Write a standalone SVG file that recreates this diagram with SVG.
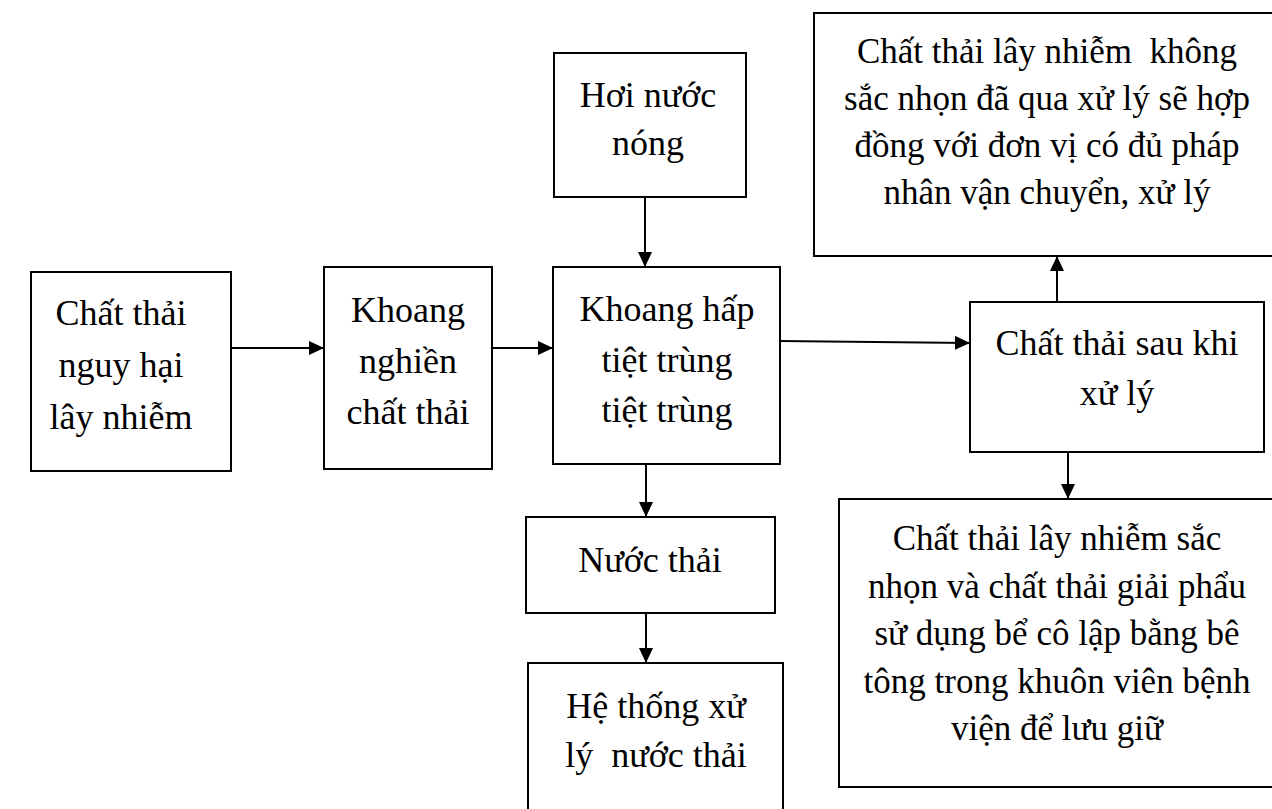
<svg xmlns="http://www.w3.org/2000/svg" width="1272" height="809" viewBox="0 0 1272 809">
  <style>
    .box { fill: #ffffff; stroke: #000000; stroke-width: 2; }
    .lbl { font-family: "Liberation Serif", "Times New Roman", serif; font-size: 36px; fill: #000000; text-anchor: middle; }
    .lbl-s { font-size: 35px; }
    .edge { fill: none; stroke: #000000; stroke-width: 2; }
  </style>
  <defs>
    <marker id="arrow" markerUnits="userSpaceOnUse" markerWidth="16" markerHeight="14" refX="15" refY="7" orient="auto">
      <path d="M0,0 L15,7 L0,14 z" fill="#000000"/>
    </marker>
  </defs>
  <rect width="1272" height="809" fill="#ffffff"/>

  <!-- connectors -->
  <g id="connectors">
    <line class="edge" x1="231" y1="348" x2="324" y2="348" marker-end="url(#arrow)"/>
    <line class="edge" x1="492" y1="348" x2="553" y2="348" marker-end="url(#arrow)"/>
    <line class="edge" x1="645" y1="197" x2="645" y2="267" marker-end="url(#arrow)"/>
    <line class="edge" x1="779" y1="341" x2="970" y2="343" marker-end="url(#arrow)"/>
    <line class="edge" x1="1057" y1="302" x2="1057" y2="256" marker-end="url(#arrow)"/>
    <line class="edge" x1="1068" y1="452" x2="1068" y2="499" marker-end="url(#arrow)"/>
    <line class="edge" x1="646" y1="464" x2="646" y2="517" marker-end="url(#arrow)"/>
    <line class="edge" x1="646" y1="613" x2="646" y2="663" marker-end="url(#arrow)"/>
  </g>

  <!-- hazardous infectious waste -->
  <g id="n-input">
    <rect class="box" x="31" y="272" width="200" height="199"/>
    <text class="lbl" x="121" y="325">Chất thải</text>
    <text class="lbl" x="121" y="377">nguy hại</text>
    <text class="lbl" x="121" y="429">lây nhiễm</text>
  </g>

  <!-- shredding chamber -->
  <g id="n-shredder">
    <rect class="box" x="324" y="267" width="168" height="202"/>
    <text class="lbl" x="408" y="322">Khoang</text>
    <text class="lbl" x="408" y="373">nghiền</text>
    <text class="lbl" x="408" y="424">chất thải</text>
  </g>

  <!-- hot steam -->
  <g id="n-steam">
    <rect class="box" x="554" y="53" width="192" height="144"/>
    <text class="lbl" x="648" y="107">Hơi nước</text>
    <text class="lbl" x="648" y="155">nóng</text>
  </g>

  <!-- steam sterilisation chamber -->
  <g id="n-autoclave">
    <rect class="box" x="553" y="267" width="227" height="197"/>
    <text class="lbl" x="667" y="321">Khoang hấp</text>
    <text class="lbl" x="667" y="372">tiệt trùng</text>
    <text class="lbl" x="667" y="422">tiệt trùng</text>
  </g>

  <!-- waste water -->
  <g id="n-wastewater">
    <rect class="box" x="526" y="517" width="249" height="96"/>
    <text class="lbl" x="650" y="572">Nước thải</text>
  </g>

  <!-- waste water treatment system -->
  <g id="n-wwtp">
    <rect class="box" x="528" y="663" width="255" height="170"/>
    <text class="lbl" x="656" y="718">Hệ thống xử</text>
    <text class="lbl" x="656" y="767" xml:space="preserve">lý  nước thải</text>
  </g>

  <!-- treated waste -->
  <g id="n-treated">
    <rect class="box" x="970" y="302" width="294" height="150"/>
    <text class="lbl" x="1117" y="355">Chất thải sau khi</text>
    <text class="lbl" x="1117" y="405">xử lý</text>
  </g>

  <!-- non-sharp infectious waste, contracted out -->
  <g id="n-contract">
    <rect class="box" x="814" y="13" width="480" height="243"/>
    <text class="lbl lbl-s" x="1047" y="63" xml:space="preserve">Chất thải lây nhiễm  không</text>
    <text class="lbl lbl-s" x="1047" y="110">sắc nhọn đã qua xử lý sẽ hợp</text>
    <text class="lbl lbl-s" x="1047" y="157">đồng với đơn vị có đủ pháp</text>
    <text class="lbl lbl-s" x="1047" y="204">nhân vận chuyển, xử lý</text>
  </g>

  <!-- sharps and anatomical waste, concrete pit -->
  <g id="n-pit">
    <rect class="box" x="839" y="499" width="460" height="288"/>
    <text class="lbl lbl-s" x="1057" y="550">Chất thải lây nhiễm sắc</text>
    <text class="lbl lbl-s" x="1057" y="598">nhọn và chất thải giải phẩu</text>
    <text class="lbl lbl-s" x="1057" y="645">sử dụng bể cô lập bằng bê</text>
    <text class="lbl lbl-s" x="1057" y="693">tông trong khuôn viên bệnh</text>
    <text class="lbl lbl-s" x="1057" y="740">viện để lưu giữ</text>
  </g>
</svg>
